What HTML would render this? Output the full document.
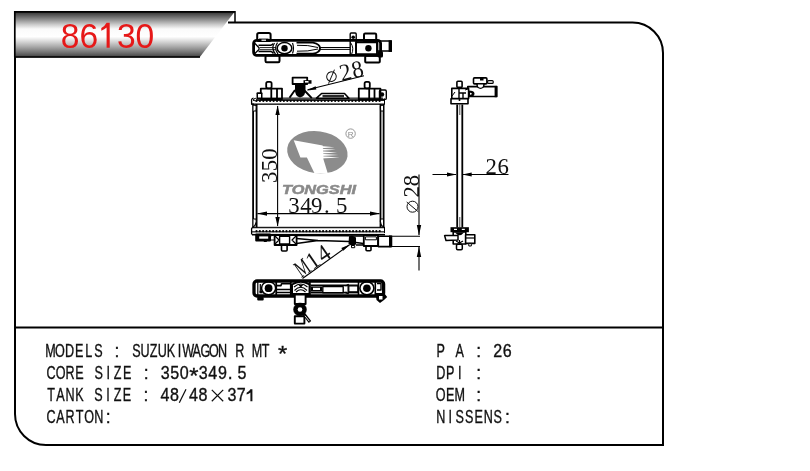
<!DOCTYPE html>
<html><head><meta charset="utf-8">
<style>
html,body{margin:0;padding:0;background:#fff;width:810px;height:471px;overflow:hidden}
svg{display:block;will-change:transform}
</style></head><body>
<svg width="810" height="471" viewBox="0 0 810 471">
<defs>
<linearGradient id="g" gradientUnits="userSpaceOnUse" x1="0" y1="11.2" x2="0" y2="57.5">
<stop offset="0" stop-color="#2a2a2a"/>
<stop offset="0.03" stop-color="#3a3a3a"/>
<stop offset="0.17" stop-color="#888888"/>
<stop offset="0.29" stop-color="#cccccc"/>
<stop offset="0.385" stop-color="#fafafa"/>
<stop offset="0.55" stop-color="#ffffff"/>
<stop offset="0.64" stop-color="#dddddd"/>
<stop offset="0.765" stop-color="#aaaaaa"/>
<stop offset="0.88" stop-color="#777777"/>
<stop offset="0.95" stop-color="#555555"/>
<stop offset="1" stop-color="#3a3a3a"/>
</linearGradient>
</defs>
<rect width="810" height="471" fill="#fff"/>
<path d="M14.8 11.2 H235 L199.5 57.5 H14.8 Z" fill="url(#g)"/>
<path d="M14 11.9 H235 M14.8 11 V57 M14 57 H200" stroke="#000" stroke-width="1.7" fill="none"/>
<path d="M235 11 V22.5" stroke="#000" stroke-width="1.5"/>
<g fill="#e61818" font-family="Liberation Sans" font-size="35.5"><text x="60.8" y="47.8" textLength="37.4" lengthAdjust="spacingAndGlyphs">86</text><text x="116.9" y="47.8" textLength="37.4" lengthAdjust="spacingAndGlyphs">30</text><path d="M106.6 22.8 H109.7 V47.8 H106.6 V27.6 Q104.5 29.6 101.3 30.8 V27.9 Q105 26 106.6 22.8 Z"/></g>
<path d="M228 22.5 H632.5 A30.5 30.5 0 0 1 663 53 V445 H46 A31 31 0 0 1 15 414 V57" fill="none" stroke="#000" stroke-width="2"/>
<path d="M15 327.5 H663" stroke="#000" stroke-width="2"/>

<g font-family="Liberation Sans" font-size="17.50" text-anchor="middle" fill="#111" stroke="#111" stroke-width="0.35"><text transform="translate(50.40,357.00) scale(0.720,1)">M</text><text transform="translate(60.00,357.00) scale(0.720,1)">O</text><text transform="translate(69.60,357.00) scale(0.720,1)">D</text><text transform="translate(79.20,357.00) scale(0.720,1)">E</text><text transform="translate(88.80,357.00) scale(0.720,1)">L</text><text transform="translate(98.40,357.00) scale(0.720,1)">S</text></g>
<g font-family="Liberation Sans" font-size="17.50" text-anchor="middle" fill="#111" stroke="#111" stroke-width="0.35"><text transform="translate(117.00,357.00) scale(1.000,1)">:</text></g>
<g font-family="Liberation Sans" font-size="17.50" text-anchor="middle" fill="#111" stroke="#111" stroke-width="0.35"><text transform="translate(136.50,357.00) scale(0.720,1)">S</text><text transform="translate(145.10,357.00) scale(0.720,1)">U</text><text transform="translate(153.70,357.00) scale(0.720,1)">Z</text><text transform="translate(162.30,357.00) scale(0.720,1)">U</text><text transform="translate(170.90,357.00) scale(0.720,1)">K</text><text transform="translate(179.50,357.00) scale(0.720,1)">I</text><text transform="translate(188.10,357.00) scale(0.720,1)">W</text><text transform="translate(196.70,357.00) scale(0.720,1)">A</text><text transform="translate(205.30,357.00) scale(0.720,1)">G</text><text transform="translate(213.90,357.00) scale(0.720,1)">O</text><text transform="translate(222.50,357.00) scale(0.720,1)">N</text><text transform="translate(239.70,357.00) scale(0.720,1)">R</text><text transform="translate(256.90,357.00) scale(0.720,1)">M</text><text transform="translate(265.50,357.00) scale(0.720,1)">T</text><text transform="translate(282.70,361.20) scale(1.050,1)" font-size="22.5">*</text></g>
<g font-family="Liberation Sans" font-size="17.50" text-anchor="middle" fill="#111" stroke="#111" stroke-width="0.35"><text transform="translate(51.00,379.00) scale(0.720,1)">C</text><text transform="translate(60.52,379.00) scale(0.720,1)">O</text><text transform="translate(70.04,379.00) scale(0.720,1)">R</text><text transform="translate(79.56,379.00) scale(0.720,1)">E</text><text transform="translate(98.60,379.00) scale(0.720,1)">S</text><text transform="translate(108.12,379.00) scale(0.720,1)">I</text><text transform="translate(117.64,379.00) scale(0.720,1)">Z</text><text transform="translate(127.16,379.00) scale(0.720,1)">E</text><text transform="translate(146.20,379.00) scale(1.000,1)">:</text><text transform="translate(165.24,379.00) scale(0.920,1)">3</text><text transform="translate(174.76,379.00) scale(0.920,1)">5</text><text transform="translate(184.28,379.00) scale(0.920,1)">0</text><text transform="translate(193.80,383.20) scale(1.050,1)" font-size="22.5">*</text><text transform="translate(203.32,379.00) scale(0.920,1)">3</text><text transform="translate(212.84,379.00) scale(0.920,1)">4</text><text transform="translate(222.36,379.00) scale(0.920,1)">9</text></g>
<g font-family="Liberation Sans" font-size="17.50" text-anchor="middle" fill="#111" stroke="#111" stroke-width="0.35"><text transform="translate(230.20,379.00) scale(1.000,1)">.</text></g>
<g font-family="Liberation Sans" font-size="17.50" text-anchor="middle" fill="#111" stroke="#111" stroke-width="0.35"><text transform="translate(242.00,379.00) scale(0.920,1)">5</text></g>
<g font-family="Liberation Sans" font-size="17.50" text-anchor="middle" fill="#111" stroke="#111" stroke-width="0.35"><text transform="translate(51.00,401.30) scale(0.720,1)">T</text><text transform="translate(60.50,401.30) scale(0.720,1)">A</text><text transform="translate(70.00,401.30) scale(0.720,1)">N</text><text transform="translate(79.50,401.30) scale(0.720,1)">K</text><text transform="translate(98.50,401.30) scale(0.720,1)">S</text><text transform="translate(108.00,401.30) scale(0.720,1)">I</text><text transform="translate(117.50,401.30) scale(0.720,1)">Z</text><text transform="translate(127.00,401.30) scale(0.720,1)">E</text><text transform="translate(146.00,401.30) scale(1.000,1)">:</text><text transform="translate(165.00,401.30) scale(0.920,1)">4</text><text transform="translate(174.50,401.30) scale(0.920,1)">8</text><text transform="translate(193.50,401.30) scale(0.920,1)">4</text><text transform="translate(203.00,401.30) scale(0.920,1)">8</text></g>
<g font-family="Liberation Sans" font-size="17.50" text-anchor="middle" fill="#111" stroke="#111" stroke-width="0.35"><text transform="translate(232.00,401.30) scale(0.920,1)">3</text><text transform="translate(241.30,401.30) scale(0.920,1)">7</text></g>
<path d="M179.3 402.8 L186 389.3 M211.8 389.9 L223.2 401.3 M223.2 389.9 L211.8 401.3" stroke="#111" stroke-width="1.25" fill="none"/>
<path d="M250.4 389.3 H252.4 V401.3 H250.4 V392.6 Q248.8 393.9 246.6 394.5 V392.8 Q249.3 391.6 250.4 389.3 Z" fill="#111"/>
<g font-family="Liberation Sans" font-size="17.50" text-anchor="middle" fill="#111" stroke="#111" stroke-width="0.35"><text transform="translate(51.00,423.30) scale(0.720,1)">C</text><text transform="translate(60.55,423.30) scale(0.720,1)">A</text><text transform="translate(70.10,423.30) scale(0.720,1)">R</text><text transform="translate(79.65,423.30) scale(0.720,1)">T</text><text transform="translate(89.20,423.30) scale(0.720,1)">O</text><text transform="translate(98.75,423.30) scale(0.720,1)">N</text><text transform="translate(108.30,423.30) scale(1.000,1)">:</text></g>
<g font-family="Liberation Sans" font-size="17.50" text-anchor="middle" fill="#111" stroke="#111" stroke-width="0.35"><text transform="translate(440.70,357.00) scale(0.720,1)">P</text><text transform="translate(459.70,357.00) scale(0.720,1)">A</text><text transform="translate(478.70,357.00) scale(1.000,1)">:</text><text transform="translate(497.70,357.00) scale(0.920,1)">2</text><text transform="translate(507.20,357.00) scale(0.920,1)">6</text></g>
<g font-family="Liberation Sans" font-size="17.50" text-anchor="middle" fill="#111" stroke="#111" stroke-width="0.35"><text transform="translate(440.70,379.00) scale(0.720,1)">D</text><text transform="translate(450.20,379.00) scale(0.720,1)">P</text><text transform="translate(459.70,379.00) scale(0.720,1)">I</text><text transform="translate(478.70,379.00) scale(1.000,1)">:</text></g>
<g font-family="Liberation Sans" font-size="17.50" text-anchor="middle" fill="#111" stroke="#111" stroke-width="0.35"><text transform="translate(440.70,401.30) scale(0.720,1)">O</text><text transform="translate(450.20,401.30) scale(0.720,1)">E</text><text transform="translate(459.70,401.30) scale(0.720,1)">M</text><text transform="translate(478.70,401.30) scale(1.000,1)">:</text></g>
<g font-family="Liberation Sans" font-size="17.50" text-anchor="middle" fill="#111" stroke="#111" stroke-width="0.35"><text transform="translate(440.70,423.30) scale(0.720,1)">N</text><text transform="translate(450.22,423.30) scale(0.720,1)">I</text><text transform="translate(459.74,423.30) scale(0.720,1)">S</text><text transform="translate(469.26,423.30) scale(0.720,1)">S</text><text transform="translate(478.78,423.30) scale(0.720,1)">E</text><text transform="translate(488.30,423.30) scale(0.720,1)">N</text><text transform="translate(497.82,423.30) scale(0.720,1)">S</text><text transform="translate(507.34,423.30) scale(1.000,1)">:</text></g>
<g id="topview" fill="none" stroke="#000" stroke-linejoin="round">
  <rect x="257.2" y="33" width="13.4" height="8" rx="1.8" stroke-width="2"/>
  <rect x="265.5" y="55.6" width="14" height="6.6" rx="1.2" stroke-width="2"/>
  <rect x="253.6" y="40.3" width="127" height="15" rx="3" stroke-width="2.8"/>
  <path d="M259 38.6 H268.5 V42 H259 Z" fill="#000" stroke="none"/>
  <rect x="261.5" y="39.6" width="4.5" height="1.2" fill="#fff" stroke="none"/>
  <path d="M258.5 45.2 H270.8 Q272.5 45 273 43.5 M258.5 51.5 H270.8 Q272.5 51.8 273.5 53.5" stroke-width="1.5"/>
  <path d="M254.5 43 L259 47.7 M254.5 53.8 L259 49.6 M259 47.7 V49.6" stroke-width="1.3"/>
  <path d="M259.5 47.6 H276 M259.5 49.7 H276" stroke-width="0.9"/>
  <path d="M274.5 43 Q270.8 48.4 275.5 54 M277.5 42.6 Q273.5 48.4 278 54" stroke-width="1.2"/>
  <ellipse cx="284.5" cy="48.2" rx="7.3" ry="5.6" stroke-width="1.5" fill="#fff"/>
  <circle cx="284.5" cy="48.2" r="3.2" fill="#000" stroke="none"/>
  <path d="M292.5 43 Q294.5 48.2 292.5 53.5" stroke-width="1.2"/>
  <path d="M296.5 42.6 H313 Q320 44 320 48.2 Q320 52.4 313 53.8 H296.5" stroke-width="1.9"/>
  <path d="M297 45.3 Q308 44.8 318 47.5 M297 51.2 Q308 51.7 318 49" stroke-width="1"/>
  <path d="M320 47.5 H350 M320 49.4 H350" stroke-width="1"/>
  <rect x="350.2" y="33" width="6" height="21.8" rx="1" stroke-width="1.4"/>
  <circle cx="353.2" cy="37.2" r="1.8" fill="#000" stroke="none"/>
  <path d="M350.5 42.5 Q354.5 48 351.5 54.5" stroke-width="1"/>
  <rect x="356" y="42.3" width="21" height="12" stroke-width="1.9"/>
  <circle cx="368.4" cy="48.2" r="3.2" fill="#000" stroke="none"/>
  <rect x="364" y="33.6" width="12.2" height="8" rx="1.2" stroke-width="2"/>
  <rect x="365.2" y="55.8" width="14.6" height="6.7" rx="1" stroke-width="2"/>
  <rect x="377.5" y="41" width="13.5" height="10" stroke-width="1.7"/>
  <rect x="388.6" y="40.3" width="3.4" height="11.6" fill="#000" stroke="none"/>
  <rect x="377.5" y="51" width="5.5" height="6.5" rx="1.5" fill="#000" stroke="none"/>
</g>
<g id="front" fill="none" stroke="#000" stroke-linejoin="round">
  <!-- top plate -->
  <path d="M253.5 98.2 Q251.2 98.5 251.6 101 V104.2 H254" stroke-width="1.3" fill="none"/>
  <rect x="260" y="97.6" width="123" height="1.1" fill="#000" stroke="none"/>
  <rect x="253" y="99.2" width="131.5" height="0.8" fill="#000" stroke="none"/>
  <rect x="253" y="100.1" width="131.5" height="0.9" fill="#000" stroke="none"/>
  <rect x="251.5" y="103.5" width="133" height="1.3" fill="#000" stroke="none"/>
  <path d="M384.5 98.5 V104.5" stroke-width="1"/>
  <circle cx="255.2" cy="99.6" r="1.3" fill="#fff" stroke-width="0.9"/>
  <!-- left bracket -->
  <rect x="266.2" y="81.8" width="5.4" height="6.6" rx="1.6" stroke-width="1.8"/>
  <rect x="260.8" y="88.6" width="21.2" height="10.4" stroke-width="1.8"/>
  <path d="M271.3 88.6 V99 M277 88.6 V99" stroke-width="1.8"/>
  <rect x="256.5" y="92.3" width="6" height="7" rx="1" fill="#000" stroke="none"/>
  <rect x="258" y="94" width="3" height="3.5" fill="#fff" stroke="none"/>
  <!-- filler neck -->
  <rect x="292.6" y="77.6" width="14.6" height="6.4" stroke-width="1.8"/>
  <rect x="303.5" y="80.2" width="8" height="3.5" fill="#000" stroke="none"/>
  <rect x="305" y="81" width="3.5" height="1.6" fill="#fff" stroke="none"/>
  <path d="M295 84 H305.5 L305.5 89 Q306 96 300 97.5 Q294.5 96 295 89 Z" fill="#000" stroke="none"/>
  <path d="M295 90 L289.5 97.8 M304.5 90.5 L311.8 98.2" stroke-width="1.9"/>
  <!-- trapezoid -->
  <path d="M316.5 98.2 L321.6 93.5 H344.5 L349 98.2 Z" stroke-width="1.6" fill="#fff"/>
  <rect x="322.5" y="95" width="21.5" height="2.4" fill="#2a2a2a" stroke="none"/>
  <!-- right bracket -->
  <rect x="364.6" y="81.8" width="5.2" height="6.6" rx="1.6" stroke-width="1.8"/>
  <rect x="358.8" y="88.6" width="21.6" height="10.6" stroke-width="1.8"/>
  <path d="M369.2 88.6 V99 M374.5 88.6 V99" stroke-width="1.8"/>
  <rect x="379.5" y="90" width="6.8" height="9.4" rx="1.2" stroke-width="1.4"/>
  <circle cx="382" cy="94.5" r="2.2" fill="#000" stroke="none"/>
  <!-- rails -->
  <path d="M253.1 104 V227.5 M256.6 104 V227.5" stroke-width="1.8"/>
  <path d="M380.5 104 V227.5 M383.6 104 V227.5" stroke-width="1.8"/>
  <path d="M253.5 105.5 Q255 104.5 256.3 106.5 L256 111 H253.5" stroke-width="1.2" fill="#fff"/>
  <path d="M383 105.5 Q381.5 104.5 380.4 106.5 L380.6 111 H383" stroke-width="1.2" fill="#fff"/>
  <path d="M253.5 226 Q255 227 256.3 221.5 L256 219 H253.5" stroke-width="1.2" fill="#fff"/>
  <path d="M383 226 Q381.5 227 380.4 221.5 L380.6 219 H383" stroke-width="1.2" fill="#fff"/>
  <!-- bottom plate -->
  <path d="M253.5 227.3 Q251.2 227.5 251.6 230 V234.5" stroke-width="1.3" fill="none"/>
  <rect x="252" y="226.8" width="133" height="1.1" fill="#000" stroke="none"/>
  <rect x="253" y="228.3" width="131" height="0.5" fill="#888" stroke="none"/>
  <rect x="252" y="231.3" width="133" height="1.1" fill="#000" stroke="none"/>
  <rect x="252" y="233.9" width="133" height="1.6" fill="#000" stroke="none"/>
  <path d="M384.5 227 V233" stroke-width="1"/>
  <!-- lower tank -->
  <rect x="256.2" y="234.6" width="13.8" height="5.8" stroke-width="2" fill="#000"/>
  <rect x="259.2" y="236.4" width="9" height="2.3" fill="#fff" stroke="none"/>
  <rect x="263.8" y="240" width="3" height="2" fill="#000" stroke="none"/>
  <path d="M270 236 L275 234.8 M270 240 H275" stroke-width="1.2"/>
  <rect x="274.6" y="235" width="22" height="10" stroke-width="1.8"/>
  <rect x="279.6" y="236.2" width="10" height="7.8" stroke-width="1.4" fill="#fff"/>
  <rect x="281.5" y="245" width="5.6" height="6" rx="1" stroke-width="1.6"/>
  <path d="M275 236 L279 240 L275 244 M296 236 L292 240 L296 244" stroke-width="1.2"/>
  <path d="M296.5 235.5 L349 235.8 M296.5 238.5 L318 240.5 L349 241.5 M296.5 243.5 L318 240.5" stroke-width="1.4"/>
  <path d="M349 236 H363.5" stroke-width="1.6"/>
  <path d="M349 236.5 L352 235.5 L356 237.5 L356 244.5 L352 246 L348.5 244 Z" fill="#000" stroke="none"/>
  <rect x="351.5" y="245.5" width="3.2" height="2.2" stroke-width="1"/>
  <path d="M356 242.5 L363.5 243.5 M356 245 H363.5" stroke-width="1.3"/>
  <rect x="363.8" y="235" width="14.2" height="11" stroke-width="1.8"/>
  <rect x="365.4" y="236.8" width="11" height="3" stroke-width="1" fill="#fff"/>
  <rect x="366" y="246.2" width="5" height="4.6" rx="1" stroke-width="1.6"/>
  <rect x="378.3" y="236.2" width="13" height="10.4" stroke-width="1.6" fill="#fff"/>
  <rect x="389" y="235.5" width="3.2" height="11.6" fill="#000" stroke="none"/>
</g>
<g id="dims" fill="none" stroke="#000">
  <!-- 350 -->
  <path d="M277.6 106 V226" stroke-width="1.1"/>
  <path d="M277.6 105.5 L275.4 115 H279.8 Z M277.6 226.5 L275.4 217 H279.8 Z" fill="#000" stroke="none"/>
  <!-- 349.5 -->
  <path d="M257.5 213.6 H379.5" stroke-width="1.1"/>
  <path d="M257.2 213.6 L267 211.5 V215.7 Z M379.8 213.6 L370 211.5 V215.7 Z" fill="#000" stroke="none"/>
  <!-- phi28 leader -->
  <path d="M307.5 89.8 L364 75.8" stroke-width="1.1"/>
  <path d="M306.6 90.5 L315.6 86.2 L316.4 89.4 Z" fill="#000" stroke="none"/>
  <!-- M14 leader -->
  <path d="M302.5 278.5 L349.6 244.8" stroke-width="1.1"/>
  <path d="M349.8 244.6 L341.3 247.9 L343.3 250.7 Z" fill="#000" stroke="none"/>
  <!-- phi28 vertical -->
  <path d="M392 236.2 H420 M392 246.5 H420" stroke-width="1.1"/>
  <path d="M419 174.5 V235 M419 247 V270.5" stroke-width="1.1"/>
  <path d="M419 235.6 L416.8 225 H421.2 Z M419 246.5 L416.8 257 H421.2 Z" fill="#000" stroke="none"/>
  <!-- 26 -->
  <path d="M432.5 174.5 H456 M462.5 174.5 H508.5" stroke-width="1.1"/>
  <path d="M456.5 174.5 L447 172.4 V176.6 Z M462.2 174.5 L471.7 172.4 V176.6 Z" fill="#000" stroke="none"/>
</g>
<g id="side" fill="none" stroke="#000" stroke-linejoin="round">
  <path d="M457.2 104.5 V227.5 M462.3 104.5 V227.5" stroke-width="1.8"/>
  <path d="M459.8 104.5 V115 M459.8 217 V227" stroke-width="0.7"/>
  <rect x="467.8" y="86.6" width="28.8" height="9.9" stroke-width="1.6" fill="#fff"/>
  <rect x="494.6" y="85.9" width="2.8" height="11.3" fill="#000" stroke="none"/>
  <rect x="456.9" y="81.2" width="5.2" height="6.2" rx="1" stroke-width="1.6" fill="#fff"/>
  <rect x="451.8" y="88.4" width="16.8" height="10.2" stroke-width="1.6" fill="#fff"/>
  <path d="M459 88.4 V98.5 M459 93 H466 M463 93 V98.5" stroke-width="1.4"/>
  <path d="M452 96 L455 92 M465 90 L468 89" stroke-width="1"/>
  <rect x="451" y="98.8" width="17" height="5" stroke-width="1.6" fill="#fff"/>
  <circle cx="459.5" cy="100" r="1" fill="#000" stroke="none"/>
  <path d="M468.5 90.5 Q474.5 90.5 474.5 93.8 Q474.5 97 468.5 97 Z" fill="#000" stroke="none"/>
  <path d="M470 92.8 Q471.8 93 471.8 93.8 Q471.8 94.6 470 94.8 Z" fill="#fff" stroke="none"/>
  <rect x="473.5" y="77.9" width="13.4" height="6" rx="1" stroke-width="1.6" fill="#fff"/>
  <path d="M476.2 84 A4.3 5 0 0 0 484.8 84 Z" fill="#000" stroke="none"/>
  <path d="M477.8 84.5 A2.7 3.3 0 0 0 483.2 84.5 Z" fill="#fff" stroke="none"/>
  <rect x="487.6" y="80.6" width="5.6" height="2.8" rx="1" stroke-width="1.2" fill="#fff"/>
  <rect x="480" y="78" width="3.5" height="2.5" fill="#000" stroke="none"/>
  <!-- bottom fitting -->
  <rect x="450.5" y="227.2" width="18.4" height="5" fill="#000" stroke="none"/>
  <rect x="454" y="228.8" width="3" height="1.2" fill="#fff" stroke="none"/>
  <rect x="461.8" y="228.8" width="3" height="1.2" fill="#fff" stroke="none"/>
  <rect x="453.2" y="232" width="12.6" height="12" stroke-width="1.6" fill="#fff"/>
  <path d="M455 232.5 Q459.5 238 464 232.5" fill="#000" stroke="none"/>
  <path d="M444.6 235.6 H458 L458 240 L446 240.5 Z" stroke-width="1.5" fill="#fff"/>
  <rect x="465.6" y="234.8" width="9.2" height="8.6" stroke-width="1.6" fill="#fff"/>
  <path d="M465.8 238 H474.5" stroke-width="1.2"/>
  <path d="M459.5 240 V244 M456 241 L459.5 243 M463 241 L459.5 243" stroke-width="1.1"/>
  <rect x="456.5" y="244.2" width="5.8" height="5.6" rx="1.2" stroke-width="1.5" fill="#fff"/>
  <rect x="468.8" y="243.4" width="2.5" height="2.6" stroke-width="1" fill="#fff"/>
</g>
<g id="bottomview" fill="none" stroke="#000" stroke-linejoin="round">
  <rect x="254" y="281" width="129.6" height="15" rx="3" stroke-width="3.3" fill="#fff"/>
  <rect x="257.2" y="297" width="6.5" height="3.5" rx="1" fill="#000" stroke="none"/>
  <path d="M375.5 293 L384 293 L387.2 297 L384 300 L380 303 L376.5 300 Z" fill="#000" stroke="none"/>
  <rect x="379" y="296" width="3.5" height="3.5" fill="#fff" stroke="none"/>
  <path d="M257.8 282 V295 M260.3 284 V292.5" stroke-width="1.2"/>
  <rect x="259.5" y="290.8" width="3" height="2.5" fill="#000" stroke="none"/>
  <ellipse cx="268.6" cy="288.2" rx="7.1" ry="6.6" stroke-width="1.6"/>
  <circle cx="268.6" cy="288.2" r="3.9" fill="#000" stroke="none"/>
  <path d="M276.2 281.5 V295.5" stroke-width="1.8"/>
  <path d="M276.5 285.6 H281 L281.5 283.8 H290 M276.5 289.5 H290 M276.5 292.5 H290" stroke-width="1.6"/>
  <path d="M290.8 281.5 V295.5" stroke-width="1.8"/>
  <path d="M292 284.5 Q300.8 279 309.6 284.5 V294 H292 Z" stroke-width="2" fill="#fff"/>
  <path d="M294.5 290.5 Q300.8 284 307 290.5 M296 292 Q300.8 287.5 305.5 292 M294 287 Q300.8 281 307.5 287" stroke-width="1.1"/>
  <path d="M298.3 284.8 L300.8 287.8 L303.3 284.8 Z" fill="#000" stroke="none"/>
  <path d="M309.8 282 V295.5" stroke-width="1.8"/>
  <path d="M311 285.4 H358 M311 292.6 H347" stroke-width="1.8"/>
  <rect x="322.8" y="286.6" width="20.4" height="6.2" stroke-width="1.4" fill="#fff"/>
  <rect x="311" y="286.5" width="11" height="5" fill="#000" stroke="none"/>
  <rect x="313" y="287.8" width="7" height="2.2" fill="#fff" stroke="none"/>
  <path d="M345.5 286 L348.2 284.5 V293.5 L345.5 292.5" stroke-width="1.4"/>
  <rect x="348.8" y="285.8" width="9" height="6" stroke-width="1.2" fill="#fff"/>
  <path d="M348 292.6 H358" stroke-width="1.6"/>
  <path d="M358.5 282 V295.5 M375.3 282 V295.5" stroke-width="1.6"/>
  <ellipse cx="366.9" cy="288.3" rx="7" ry="6.5" stroke-width="1.6"/>
  <circle cx="366.9" cy="288.3" r="3.8" fill="#000" stroke="none"/>
  <path d="M377 283.5 H381 V290 H377" stroke-width="1.4"/>
  <!-- center fitting below -->
  <rect x="294.8" y="294.5" width="10.8" height="9.5" stroke-width="1.9" fill="#fff"/>
  <circle cx="300" cy="309.5" r="6.5" fill="#000" stroke-width="0.5"/>
  <circle cx="300" cy="309.5" r="2.3" fill="#fff" stroke="none"/>
  <rect x="294.8" y="316.2" width="9.6" height="7.4" stroke-width="1.9" fill="#fff"/>
  <path d="M303.5 313.5 L310 322" stroke-width="3"/>
  <path d="M305 315.8 L309.3 321.2" stroke="#fff" stroke-width="0.9"/>
</g>

<g fill="#000"><circle cx="256.50" cy="101" r="1.05"/><circle cx="259.92" cy="101" r="1.05"/><circle cx="263.34" cy="101" r="1.05"/><circle cx="266.76" cy="101" r="1.05"/><circle cx="270.18" cy="101" r="1.05"/><circle cx="273.60" cy="101" r="1.05"/><circle cx="277.02" cy="101" r="1.05"/><circle cx="280.44" cy="101" r="1.05"/><circle cx="283.86" cy="101" r="1.05"/><circle cx="287.28" cy="101" r="1.05"/><circle cx="290.70" cy="101" r="1.05"/><circle cx="294.12" cy="101" r="1.05"/><circle cx="297.54" cy="101" r="1.05"/><circle cx="300.96" cy="101" r="1.05"/><circle cx="304.38" cy="101" r="1.05"/><circle cx="307.80" cy="101" r="1.05"/><circle cx="311.22" cy="101" r="1.05"/><circle cx="314.64" cy="101" r="1.05"/><circle cx="318.06" cy="101" r="1.05"/><circle cx="321.48" cy="101" r="1.05"/><circle cx="324.90" cy="101" r="1.05"/><circle cx="328.32" cy="101" r="1.05"/><circle cx="331.74" cy="101" r="1.05"/><circle cx="335.16" cy="101" r="1.05"/><circle cx="338.58" cy="101" r="1.05"/><circle cx="342.00" cy="101" r="1.05"/><circle cx="345.42" cy="101" r="1.05"/><circle cx="348.84" cy="101" r="1.05"/><circle cx="352.26" cy="101" r="1.05"/><circle cx="355.68" cy="101" r="1.05"/><circle cx="359.10" cy="101" r="1.05"/><circle cx="362.52" cy="101" r="1.05"/><circle cx="365.94" cy="101" r="1.05"/><circle cx="369.36" cy="101" r="1.05"/><circle cx="372.78" cy="101" r="1.05"/><circle cx="376.20" cy="101" r="1.05"/><circle cx="379.62" cy="101" r="1.05"/><circle cx="256.50" cy="231.2" r="1.1"/><circle cx="259.83" cy="231.2" r="1.1"/><circle cx="263.16" cy="231.2" r="1.1"/><circle cx="266.49" cy="231.2" r="1.1"/><circle cx="269.82" cy="231.2" r="1.1"/><circle cx="273.15" cy="231.2" r="1.1"/><circle cx="276.48" cy="231.2" r="1.1"/><circle cx="279.81" cy="231.2" r="1.1"/><circle cx="283.14" cy="231.2" r="1.1"/><circle cx="286.47" cy="231.2" r="1.1"/><circle cx="289.80" cy="231.2" r="1.1"/><circle cx="293.13" cy="231.2" r="1.1"/><circle cx="296.46" cy="231.2" r="1.1"/><circle cx="299.79" cy="231.2" r="1.1"/><circle cx="303.12" cy="231.2" r="1.1"/><circle cx="306.45" cy="231.2" r="1.1"/><circle cx="309.78" cy="231.2" r="1.1"/><circle cx="313.11" cy="231.2" r="1.1"/><circle cx="316.44" cy="231.2" r="1.1"/><circle cx="319.77" cy="231.2" r="1.1"/><circle cx="323.10" cy="231.2" r="1.1"/><circle cx="326.43" cy="231.2" r="1.1"/><circle cx="329.76" cy="231.2" r="1.1"/><circle cx="333.09" cy="231.2" r="1.1"/><circle cx="336.42" cy="231.2" r="1.1"/><circle cx="339.75" cy="231.2" r="1.1"/><circle cx="343.08" cy="231.2" r="1.1"/><circle cx="346.41" cy="231.2" r="1.1"/><circle cx="349.74" cy="231.2" r="1.1"/><circle cx="353.07" cy="231.2" r="1.1"/><circle cx="356.40" cy="231.2" r="1.1"/><circle cx="359.73" cy="231.2" r="1.1"/><circle cx="363.06" cy="231.2" r="1.1"/><circle cx="366.39" cy="231.2" r="1.1"/><circle cx="369.72" cy="231.2" r="1.1"/><circle cx="373.05" cy="231.2" r="1.1"/><circle cx="376.38" cy="231.2" r="1.1"/><circle cx="379.71" cy="231.2" r="1.1"/></g>
<g transform="translate(277.2,183) rotate(-90)" font-family="Liberation Serif" font-size="24.0" fill="#111" text-anchor="middle"><text transform="translate(5.80,0) scale(0.950,1)" x="0" y="0">3</text><text transform="translate(17.50,0) scale(0.950,1)" x="0" y="0">5</text><text transform="translate(29.00,0) scale(0.950,1)" x="0" y="0">0</text></g>
<g transform="translate(0,212.6)" font-family="Liberation Serif" font-size="24.0" fill="#111" text-anchor="middle"><text transform="translate(294.00,0) scale(0.950,1)" x="0" y="0">3</text><text transform="translate(306.00,0) scale(0.950,1)" x="0" y="0">4</text><text transform="translate(316.70,0) scale(0.950,1)" x="0" y="0">9</text><text transform="translate(326.90,0) scale(0.950,1)" x="0" y="0">.</text><text transform="translate(341.80,0) scale(0.950,1)" x="0" y="0">5</text></g>
<g transform="translate(0,174)" font-family="Liberation Serif" font-size="24.0" fill="#111" text-anchor="middle"><text transform="translate(491.10,0) scale(0.950,1)" x="0" y="0">2</text><text transform="translate(503.20,0) scale(0.950,1)" x="0" y="0">6</text></g>
<g transform="translate(307.8,89.6) rotate(-13.9)" font-family="Liberation Serif" font-size="24.0" fill="#111" text-anchor="middle"><text transform="translate(40.70,0) scale(0.950,1)" x="0" y="0">2</text><text transform="translate(52.90,0) scale(0.950,1)" x="0" y="0">8</text></g>
<g transform="translate(307.8,89.6) rotate(-13.9)" fill="none" stroke="#111" stroke-width="1"><circle cx="26.1" cy="-6.9" r="4.8"/><path d="M21.5 -0.8 L30.7 -13"/></g>
<g transform="translate(419.2,213) rotate(-90)" font-family="Liberation Serif" font-size="24.0" fill="#111" text-anchor="middle"><text transform="translate(21.10,0) scale(0.950,1)" x="0" y="0">2</text><text transform="translate(32.50,0) scale(0.950,1)" x="0" y="0">8</text></g>
<g transform="translate(419.2,213) rotate(-90)" fill="none" stroke="#111" stroke-width="1"><circle cx="6.3" cy="-6.7" r="5.5"/><path d="M1.3 -1 L11 -12.5"/></g>
<g transform="translate(302.6,277.2) rotate(-34.5)" font-family="Liberation Serif" font-size="24.0" fill="#111" text-anchor="middle"><text transform="translate(5.00,0) scale(0.620,1)" x="0" y="0">M</text><text transform="translate(17.80,0) scale(0.950,1)" x="0" y="0">1</text><text transform="translate(30.60,0) scale(0.950,1)" x="0" y="0">4</text></g>
<g id="logo">
<ellipse cx="317.4" cy="152.2" rx="30.4" ry="21" transform="rotate(8 317.4 152.2)" fill="#8c8c8c"/>
<path d="M293.7 140.2 L322.7 145.6 L323.5 158.4 L323.2 158.4 L327.8 173.6 L314.6 173.6 L306.9 157.4 L300.4 157.4 Z" fill="#fff"/>
<path d="M321 146.10 L334.5 147.30 L321 148.30 Z M321 148.65 L335.8 149.85 L321 150.85 Z M321 151.20 L337.1 152.40 L321 153.40 Z M321 153.75 L338.4 154.95 L321 155.95 Z M321 156.30 L339.7 157.50 L321 158.50 Z" fill="#fff"/>
<circle cx="350.6" cy="133.6" r="4.7" fill="none" stroke="#8c8c8c" stroke-width="0.9"/>
<text x="350.6" y="136.6" font-family="Liberation Sans" font-size="8" fill="#8c8c8c" text-anchor="middle">R</text>
<text x="282" y="193.6" font-family="Liberation Sans" font-weight="bold" font-style="italic" font-size="12.5" fill="#8a8a8a" stroke="#8a8a8a" stroke-width="0.5" textLength="74" lengthAdjust="spacingAndGlyphs">TONGSHI</text>
</g>
</svg>
</body></html>
